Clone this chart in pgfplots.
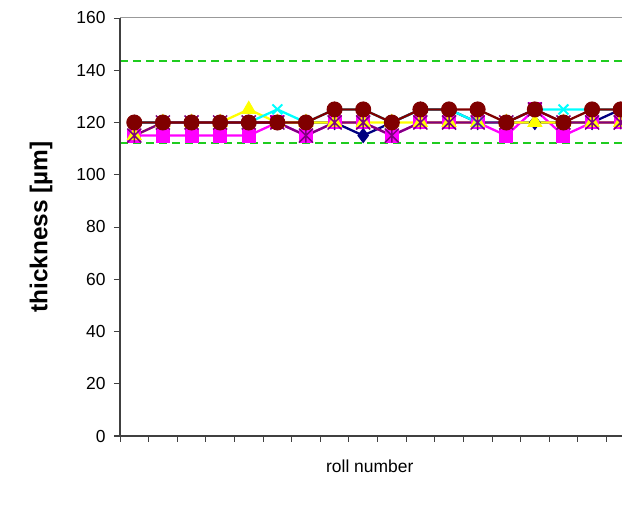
\documentclass[border=0pt]{standalone}
\usepackage{pgfplots}
\pgfplotsset{compat=1.18}
\usepackage{fontspec}
\setmainfont{Liberation Sans}
\definecolor{navyc}{HTML}{000080}
\definecolor{magc}{HTML}{FF00FF}
\definecolor{yelc}{HTML}{FFFF00}
\definecolor{cyac}{HTML}{00FFFF}
\definecolor{purc}{HTML}{800080}
\definecolor{marc}{HTML}{800000}
\definecolor{grnc}{HTML}{1FCC1F}
\definecolor{axc}{HTML}{404040}
\pgfdeclareplotmark{xbar}{%
  \pgfpathmoveto{\pgfqpoint{-\pgfplotmarksize}{-\pgfplotmarksize}}%
  \pgfpathlineto{\pgfqpoint{\pgfplotmarksize}{\pgfplotmarksize}}%
  \pgfpathmoveto{\pgfqpoint{-\pgfplotmarksize}{\pgfplotmarksize}}%
  \pgfpathlineto{\pgfqpoint{\pgfplotmarksize}{-\pgfplotmarksize}}%
  \pgfpathmoveto{\pgfqpoint{0pt}{-\pgfplotmarksize}}%
  \pgfpathlineto{\pgfqpoint{0pt}{\pgfplotmarksize}}%
  \pgfusepathqstroke}
\begin{document}
\begin{tikzpicture}
\path[use as bounding box] (0,0) rectangle (622bp,506bp);
\begin{axis}[
  at={(120bp,70bp)}, anchor=south west,
  scale only axis, width=515bp, height=418bp,
  xmin=0.5, xmax=18.5, ymin=0, ymax=160,
  ytick={0,20,...,160},
  xtick={0.5,1.5,...,18.5}, xticklabels={},
  tick align=outside,
  xtick pos=bottom, ytick pos=left,
  major tick length=6bp,
  tick style={draw=axc, line width=0.8bp},
  axis line style={draw=gray!80, line width=1bp},
  /pgf/number format/assume math mode=true,
  every tick label/.append style={font=\fontsize{17.5}{20}\selectfont},
  yticklabel style={xshift=-5bp},
  xlabel={\fontsize{17.5}{20}\selectfont roll number},
  ylabel={\fontsize{24.5}{28}\selectfont\bfseries thickness [µm]},
  xlabel style={at={(axis description cs:0.485,0)}, anchor=north, yshift=-20bp},
  ylabel style={at={(axis description cs:0,0.5)}, anchor=south, yshift=64bp},
  clip=true,
  every axis plot/.append style={line width=2.3bp},
  after end axis/.append code={
    \draw[axc, line width=2bp] (rel axis cs:0,0) -- (rel axis cs:0,1);
    \draw[axc, line width=2bp] (rel axis cs:-0.012,0) -- (rel axis cs:1,0);
  },
]
\addplot[grnc, dash pattern=on 8bp off 5bp, line width=1.8bp, forget plot] coordinates {(0.5,112) (18.5,112)};
\addplot[grnc, dash pattern=on 8bp off 5bp, line width=1.8bp, forget plot] coordinates {(0.5,143.5) (18.5,143.5)};
% navy diamonds
\addplot[navyc, mark=diamond*, mark size=7bp, mark options={fill=navyc, line width=1bp}] coordinates {
(1,120)(2,120)(3,120)(4,120)(5,120)(6,120)(7,120)(8,120)(9,115)(10,120)(11,125)(12,125)(13,120)(14,120)(15,120)(16,120)(17,120)(18,125)};
% magenta squares
\addplot[magc, mark=square*, mark size=6.5bp, mark options={fill=magc, line width=1bp}] coordinates {
(1,115)(2,115)(3,115)(4,115)(5,115)(6,120)(7,115)(8,120)(9,120)(10,115)(11,120)(12,120)(13,120)(14,115)(15,125)(16,115)(17,120)(18,120)};
% yellow triangles
\addplot[yelc, mark=triangle*, mark size=8bp, mark options={fill=yelc, line width=1bp}] coordinates {
(1,115)(2,120)(3,120)(4,120)(5,125)(6,120)(7,120)(8,120)(9,120)(10,120)(11,120)(12,120)(13,120)(14,120)(15,120)(16,120)(17,120)(18,120)};
% cyan x
\addplot[cyac, mark=x, mark size=7bp, mark options={line width=2bp}] coordinates {
(1,120)(2,120)(3,120)(4,120)(5,120)(6,125)(7,120)(8,125)(9,125)(10,120)(11,125)(12,125)(13,120)(14,120)(15,125)(16,125)(17,125)(18,125)};
% purple star
\addplot[purc, mark=xbar, mark size=7bp, mark options={line width=1.5bp}] coordinates {
(1,115)(2,120)(3,120)(4,120)(5,120)(6,120)(7,115)(8,120)(9,120)(10,115)(11,120)(12,120)(13,120)(14,120)(15,125)(16,120)(17,120)(18,120)};
% maroon circles
\addplot[marc, mark=*, mark size=7.5bp, mark options={fill=marc, line width=1bp}] coordinates {
(1,120)(2,120)(3,120)(4,120)(5,120)(6,120)(7,120)(8,125)(9,125)(10,120)(11,125)(12,125)(13,125)(14,120)(15,125)(16,120)(17,125)(18,125)};
\end{axis}
\end{tikzpicture}
\end{document}
